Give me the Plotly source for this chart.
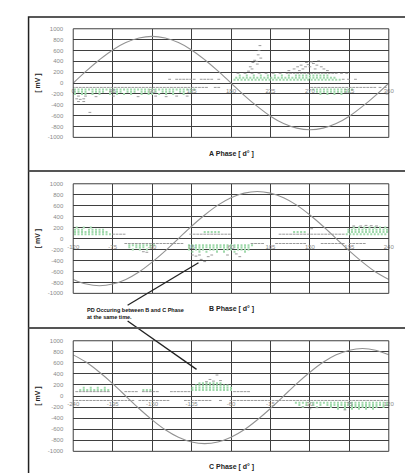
import plotly.graph_objects as go

W, H = 413, 473
FONT = "Liberation Sans, Arial, sans-serif"

# ---------------- data ----------------
Y_TICKS = [-1000, -800, -600, -400, -200, 0, 200, 400, 600, 800, 1000]

A_TICKS = [0, 45, 90, 135, 180, 225, 270, 315, 360]
B_TICKS = [-120, -75, -30, 15, 60, 105, 150, 195, 240]
C_TICKS = [-240, -195, -150, -105, -60, -15, 30, 75, 120]

A_WAVE_X = [0, 15, 30, 45, 60, 75, 90, 105, 120, 135, 150, 165, 180, 195, 210, 225, 240, 255, 270, 285, 300, 315, 330, 345, 360]
A_WAVE_Y = [0, 225, 430, 610, 745, 830, 860, 830, 745, 610, 430, 225, 0, -225, -430, -610, -745, -830, -860, -830, -745, -610, -430, -225, 0]
B_WAVE_X = [-120, -105, -90, -75, -60, -45, -30, -15, 0, 15, 30, 45, 60, 75, 90, 105, 120, 135, 150, 165, 180, 195, 210, 225, 240]
B_WAVE_Y = [-745, -830, -860, -830, -745, -610, -430, -225, 0, 225, 430, 610, 745, 830, 860, 830, 745, 610, 430, 225, 0, -225, -430, -610, -745]
C_WAVE_X = [-240, -225, -210, -195, -180, -165, -150, -135, -120, -105, -90, -75, -60, -45, -30, -15, 0, 15, 30, 45, 60, 75, 90, 105, 120]
C_WAVE_Y = [745, 610, 430, 225, 0, -225, -430, -610, -745, -830, -860, -830, -745, -610, -430, -225, 0, 225, 430, 610, 745, 830, 860, 830, 745]

# ---- Panel A points ----
A_GRAY_NEG80 = [0, 4, 8, 12, 16, 20, 24, 28, 32, 36, 40, 44, 48, 52, 56, 60, 64, 68, 72, 76, 80, 84, 88, 92, 96, 100, 104, 108, 112, 116, 120, 124, 128, 132, 136, 140, 144, 148, 152, 162, 166,
                272, 276, 280, 284, 288, 292, 296, 300, 304, 308, 312, 316, 320, 324, 328, 332, 336, 340, 344, 350, 356]
A_GRN_NEG120 = [2, 6, 10, 14, 18, 22, 26, 30, 34, 38, 42, 46, 50, 54, 58, 62, 66, 70, 74, 78, 82, 86, 90, 94, 98, 102, 106, 110, 114, 118, 122, 126, 130, 134, 138,
                274, 278, 282, 286, 290, 294, 298, 302, 306, 310, 314, 318]
A_GRN_NEG160 = [2, 6, 10, 14, 22, 26, 30, 34, 42, 46, 50, 54, 62, 66, 70, 78, 82, 86, 90, 94, 102, 106, 110, 114, 122, 126, 134,
                278, 282, 286, 290, 294, 298, 302, 306, 310, 314]
A_GRN_NEG200 = [2, 10, 14, 22, 30, 42, 50, 58, 66, 78, 86, 90, 98, 106, 114, 126, 282, 290, 298, 306]
A_GRAY_POS70 = [110, 118, 122, 126, 130, 134, 138, 146, 150, 154, 158, 166, 308, 314, 322]
A_GRN_POS60 = [184, 188, 192, 196, 200, 204, 208, 212, 216, 220, 224, 228, 232, 236, 240, 244, 248, 252, 256, 260, 264, 268, 272, 276, 280, 284, 288, 292, 296, 300, 304]
A_GRN_POS100 = [186, 190, 194, 198, 202, 206, 210, 214, 218, 222, 226, 230, 234, 238, 242, 246, 250, 254, 258, 262, 266, 270, 274, 278, 282, 286, 290, 294, 298]
A_GRN_POS140 = [190, 198, 206, 214, 222, 230, 238, 246, 254, 258, 262, 266, 270, 274, 278, 282, 286, 290]
A_GRAY_POS180 = [188, 196, 204, 212, 220, 228, 236, 244, 248, 252, 256, 260, 264, 268, 272, 276, 280, 284, 288, 292, 296, 300, 306, 312]
A_GRAY_X = [6, 14, 26, 46, 74, 94, 106, 118, 130, 4, 8, 12, 6, 12, 19, 358,
            200, 202, 205, 207, 209, 211, 212, 213, 214, 204, 210,
            246, 252, 256, 258, 260, 262, 265, 266, 268, 270, 272, 274, 276, 278, 280, 283, 286, 290]
A_GRAY_Y = [-240, -240, -250, -240, -250, -240, -250, -240, -240, -290, -300, -290, -340, -340, -540, -200,
            220, 300, 380, 420, 400, 520, 600, 690, 460, 260, 350,
            230, 260, 300, 230, 330, 260, 300, 380, 340, 300, 390, 360, 260, 330, 410, 300, 260, 230]

# ---- Panel B points ----
B_GRN_POS80 = [-118, -114, -110, -106, -102, -98, -94, -90, -86, -82, -78,
               192, 196, 200, 204, 208, 212, 216, 220, 224, 228, 232, 236]
B_GRN_POS120 = [-118, -114, -110, -106, -102, -98, -94, -90, -86, -82,
                30, 34, 38, 42, 46, 132, 136, 140, 144,
                194, 198, 202, 206, 210, 214, 218, 222, 226, 230, 234, 238]
B_GRN_POS160 = [-118, -114, -110, -102, -98, -94, -90, -86,
                194, 198, 202, 206, 210, 214, 218, 222, 226, 230, 234, 238]
B_GRN_POS200 = [-116, -108, -100, 200, 206, 212, 218, 224, 230, 236]
B_GRAY_POS80 = [-74, -70, -66, -62, 14, 18, 22, 26, 30, 34, 38, 42, 46, 50, 54, 58,
                116, 120, 124, 128, 132, 136, 140, 144, 148, 152, 156, 160, 164, 168, 172, 176, 180, 184, 188]
B_GRAY_NEG90 = [-60, -56, -52, -48, -44, -40, -36, -32, -28, -24, -20, -16, -12, -8, -4, 0, 4,
                84, 88, 92, 96, 112, 116, 120, 124, 128, 132, 136, 140, 144, 164, 168, 172, 176, 180, 184, 188, 196, 200, 204, 208, 212]
B_GRN_NEG120 = [-56, -52, -48, -44, -40, -36, -32, -28,
                12, 16, 20, 24, 28, 32, 36, 40, 44, 48, 52, 56, 60, 64, 68, 72, 76, 80, 84]
B_GRN_NEG160 = [-56, -48, -44, -40, -32,
                12, 16, 20, 24, 28, 32, 36, 40, 44, 48, 52, 56, 60, 64, 68, 72, 76, 80]
B_GRN_NEG200 = [-52, -44, -36, 12, 20, 24, 28, 36, 40, 44, 52, 56, 60, 68, 72, 76, 80]
B_GRN_NEG240 = [16, 24, 32, 44, 52, 64, 76]
B_GRAY_X = [152, 200, 208, 214, 220, 226, -40, -36, 16, 20, 24, 26, 30, 34, 38, 56, 66, 70]
B_GRAY_Y = [180, 230, 230, 240, 235, 230, -240, -250, -300, -320, -300, -380, -420, -330, -300, -300, -280, -330]

# ---- Panel C points ----
C_GRAY_POS80 = [-236, -232, -228, -224, -220, -216, -212, -208, -204, -200, -180, -176, -172, -168,
                -160, -156, -152, -148, -144, -128, -124, -120, -116, -112, -108, -56, -52, -48, -44, -40]
C_GRN_POS110 = [-232, -228, -224, -220, -216, -212, -208, -204, -200, -160, -156, -152,
                -104, -100, -96, -92, -88, -84, -80, -76, -72, -68, -64, -60]
C_GRN_POS150 = [-228, -220, -212, -204, -104, -100, -96, -92, -88, -84, -80, -76, -72, -68, -64, -60]
C_GRN_POS190 = [-100, -96, -92, -88, -84, -80, -76, -72, -68, -64]
C_GRN_POS230 = [-96, -92, -88, -84, -80, -76, -72]
C_GRAY_NEG80 = [-240, -236, -232, -228, -224, -220, -216, -212, -208, -204, -200, -196, -192, -188, -184, -180, -176, -172,
                -164, -160, -156, -152, -148, -144, -140, -136, -132, -112, -108, -104, -100, -96, -92, -88, -84,
                -72, -60, -56, -52, -48, -44, -40, -36, -32, -28, -24, -20, -16, -12, -8, -4, 0, 4, 8,
                12, 16, 20, 24, 28, 32, 36, 40, 44, 48, 52, 56, 60, 64, 68, 72, 76, 80, 84, 88, 92, 96, 100, 104, 108, 112, 116, 120]
C_GRN_NEG120 = [14, 18, 22, 26, 30, 34, 38, 42, 46, 50, 54, 58, 62, 66, 70, 74, 78, 82, 86, 90, 94, 98, 102, 106, 110, 114, 118]
C_GRN_NEG160 = [18, 26, 34, 42, 50, 54, 58, 62, 66, 70, 74, 78, 82, 86, 90, 94, 98, 102, 106, 110, 114, 118]
C_GRN_NEG200 = [22, 38, 54, 62, 70, 78, 82, 86, 90, 94, 98, 102, 106, 114]
C_GRN_NEG230 = [62, 70, 78, 86, 94, 102]
C_GRAY_X = [-80, -84, -76, -72, -88, 22, 30, 38, 70]
C_GRAY_Y = [270, 300, 380, 280, 260, -200, -230, -210, -250]

# ---------------- layout geometry ----------------
X_DOM = [61 / W, 386 / W]
DOMS = {
    "A": [1 - 128 / H, 1 - 18 / H],
    "B": [1 - 286 / H, 1 - 175 / H],
    "C": [1 - 446 / H, 1 - 334 / H],
}

GREEN = "#9fd9ab"
GRAY = "#8f8f8f"
GRID = "#3f3f3f"


def rows(spec):
    xs, ys = [], []
    for yv, xl in spec:
        xs += list(xl)
        ys += [yv] * len(xl)
    return xs, ys


panels = [
    ("A", "x", "y", A_TICKS, A_WAVE_X, A_WAVE_Y,
     [(-120, A_GRN_NEG120), (-160, A_GRN_NEG160), (-200, A_GRN_NEG200),
      (60, A_GRN_POS60), (100, A_GRN_POS100), (140, A_GRN_POS140)],
     [(-80, A_GRAY_NEG80), (70, A_GRAY_POS70), (180, A_GRAY_POS180)], A_GRAY_X, A_GRAY_Y,
     "A Phase [ d° ]", 145),
    ("B", "x2", "y2", B_TICKS, B_WAVE_X, B_WAVE_Y,
     [(80, B_GRN_POS80), (120, B_GRN_POS120), (160, B_GRN_POS160), (200, B_GRN_POS200),
      (-120, B_GRN_NEG120), (-160, B_GRN_NEG160), (-200, B_GRN_NEG200), (-240, B_GRN_NEG240)],
     [(80, B_GRAY_POS80), (-90, B_GRAY_NEG90)], B_GRAY_X, B_GRAY_Y,
     "B Phase [ d° ]", 302),
    ("C", "x3", "y3", C_TICKS, C_WAVE_X, C_WAVE_Y,
     [(110, C_GRN_POS110), (150, C_GRN_POS150), (190, C_GRN_POS190), (230, C_GRN_POS230),
      (-120, C_GRN_NEG120), (-160, C_GRN_NEG160), (-200, C_GRN_NEG200), (-230, C_GRN_NEG230)],
     [(80, C_GRAY_POS80), (-80, C_GRAY_NEG80)], C_GRAY_X, C_GRAY_Y,
     "C Phase [ d° ]", 462),
]

fig = go.Figure()
annotations = []
shapes = []

for key, xa, ya, ticks, wx, wy, green_spec, gray_spec, gx, gy, title, ty in panels:
    gxs, gys = rows(green_spec)
    fig.add_trace(go.Scatter(x=gxs, y=gys, xaxis=xa, yaxis=ya, mode="markers",
                             marker=dict(symbol="square", size=2, color=GREEN, line=dict(width=0)),
                             hoverinfo="skip", showlegend=False))
    rxs, rys = rows(gray_spec)
    fig.add_trace(go.Scatter(x=rxs + gx, y=rys + gy, xaxis=xa, yaxis=ya, mode="markers",
                             marker=dict(symbol="line-ew", size=2, color=GRAY, line=dict(width=0.9, color=GRAY)),
                             hoverinfo="skip", showlegend=False))
    fig.add_trace(go.Scatter(x=wx, y=wy, xaxis=xa, yaxis=ya, mode="lines",
                             line=dict(color="#929292", width=1.1, shape="spline"),
                             hoverinfo="skip", showlegend=False))
    dom = DOMS[key]
    xname = "xaxis" if xa == "x" else "xaxis" + xa[1:]
    yname = "yaxis" if ya == "y" else "yaxis" + ya[1:]
    fig.layout[xname] = dict(domain=X_DOM, range=[ticks[0], ticks[-1]], anchor="free",
                             position=(dom[0] + dom[1]) / 2, tickvals=ticks,
                             ticktext=[str(t) for t in ticks], showgrid=True, gridcolor=GRID,
                             gridwidth=1, zeroline=False, showline=False, ticks="",
                             ticklabelstandoff=3,
                             tickfont=dict(family=FONT, size=6, color="#8a8a8a"))
    fig.layout[yname] = dict(domain=dom, range=[-1000, 1000], anchor=xa, tickvals=Y_TICKS,
                             ticktext=[str(t) for t in Y_TICKS], showgrid=True, gridcolor=GRID,
                             gridwidth=1, zeroline=False, showline=False, ticks="",
                             ticklabelstandoff=9,
                             tickfont=dict(family=FONT, size=6, color="#8a8a8a"),
                             title=dict(text="<b>[ mV ]</b>", standoff=6,
                                        font=dict(family=FONT, size=7, color="#222")))
    shapes.append(dict(type="rect", xref=xa + " domain", yref=ya + " domain", x0=0, x1=1, y0=0, y1=1,
                       line=dict(color=GRID, width=1)))
    annotations.append(dict(text="<b>" + title + "</b>", x=224 / W, y=1 - ty / H, xref="paper", yref="paper",
                            showarrow=False, xanchor="center", yanchor="middle",
                            font=dict(family=FONT, size=7, color="#222")))

# note
annotations.append(dict(text="<b>PD Occuring between B and C Phase<br>at the same time.</b>",
                        x=73 / W, y=1 - 306 / H, xref="paper", yref="paper", showarrow=False,
                        xanchor="left", yanchor="middle", align="left",
                        font=dict(family=FONT, size=5.5, color="#111")))

# pointer lines
shapes.append(dict(type="line", xref="paper", yref="paper", x0=117 / W, y0=1 - 298 / H, x1=190 / W, y1=1 - 255 / H,
                   line=dict(color="#222", width=1.3)))
shapes.append(dict(type="line", xref="paper", yref="paper", x0=117 / W, y0=1 - 314 / H, x1=188 / W, y1=1 - 363 / H,
                   line=dict(color="#222", width=1.3)))
# outer frame and separators
shapes.append(dict(type="rect", xref="paper", yref="paper", x0=15 / W, x1=408 / W, y0=1 - 469 / H, y1=1 - 6 / H,
                   line=dict(color="#222", width=1.5)))
shapes.append(dict(type="line", xref="paper", yref="paper", x0=15 / W, x1=408 / W, y0=1 - 162 / H, y1=1 - 162 / H,
                   line=dict(color="#555", width=2)))
shapes.append(dict(type="line", xref="paper", yref="paper", x0=15 / W, x1=408 / W, y0=1 - 321 / H, y1=1 - 321 / H,
                   line=dict(color="#555", width=2)))

fig.update_layout(width=W, height=H, margin=dict(l=0, r=0, t=0, b=0), paper_bgcolor="white",
                  plot_bgcolor="white", annotations=annotations, shapes=shapes, showlegend=False,
                  font=dict(family=FONT))

fig.write_html("out.html", config={"displayModeBar": False})
